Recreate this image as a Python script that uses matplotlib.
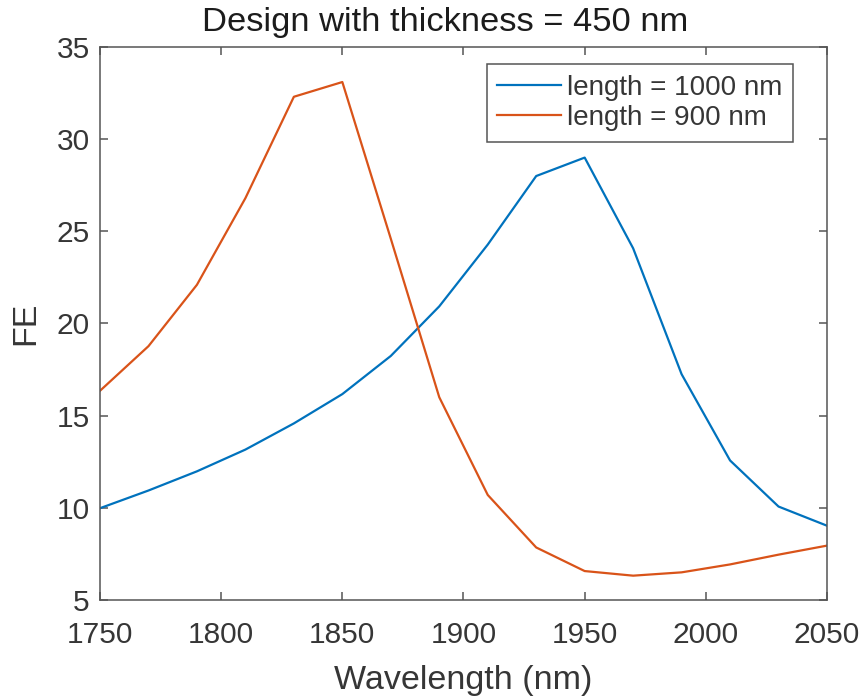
import matplotlib
matplotlib.use("Agg")
import matplotlib.pyplot as plt

wavelength = [1750, 1770, 1790, 1810, 1830, 1850, 1870, 1890, 1910, 1930, 1950, 1970, 1990, 2010, 2030, 2050]
fe_1000 = [9.98, 10.94, 11.98, 13.16, 14.58, 16.17, 18.24, 20.93, 24.28, 28.0, 29.0, 24.08, 17.25, 12.57, 10.07, 9.03]
fe_900 = [16.35, 18.77, 22.1, 26.8, 32.3, 33.1, 24.6, 16.0, 10.7, 7.85, 6.57, 6.32, 6.5, 6.93, 7.46, 7.95]
labels = ["length = 1000 nm", "length = 900 nm"]
xticks = [1750, 1800, 1850, 1900, 1950, 2000, 2050]
yticks = [5, 10, 15, 20, 25, 30, 35]

plt.rcParams['font.family'] = ['Liberation Sans', 'DejaVu Sans']
txt = '#363636'
ttl = '#1c1c1c'
axc = '#555555'

fig = plt.figure(figsize=(8.65, 6.98), dpi=100)
ax = fig.add_axes([100/865, 1-600/698, 727/865, 553/698])
ax.plot(wavelength, fe_1000, color='#0072BD', lw=1.6, label=labels[0])
ax.plot(wavelength, fe_900, color='#D95319', lw=1.6, label=labels[1])
ax.set_xlim(1750, 2050)
ax.set_ylim(5, 35)
ax.set_xticks(xticks)
ax.set_yticks(yticks)
ax.tick_params(direction='in', top=True, right=True, length=5.8, width=1.1, colors=axc,
               labelcolor=txt, labelsize=21.5)
ax.tick_params(axis='x', pad=15)
ax.tick_params(axis='y', pad=7.3)
for s in ax.spines.values():
    s.set_color(axc)
    s.set_linewidth(1.1)
ax.set_xlabel('Wavelength (nm)', fontsize=24.5, color=txt, labelpad=12)
ax.set_ylabel('FE', fontsize=24.5, color=txt, labelpad=11)
ax.set_title('Design with thickness = 450 nm', fontsize=24.8, color=ttl, pad=11.5, x=0.475)
leg = ax.legend(loc='upper right', bbox_to_anchor=(0.953, 0.969), borderaxespad=0,
                fontsize=20, frameon=True, fancybox=False, framealpha=1,
                edgecolor=axc, handlelength=2.3, handletextpad=0.2,
                borderpad=0.38, labelspacing=0.16)
leg.get_frame().set_linewidth(1.1)
for t in leg.get_texts():
    t.set_color(txt)
fig.savefig('out.png', dpi=100)
